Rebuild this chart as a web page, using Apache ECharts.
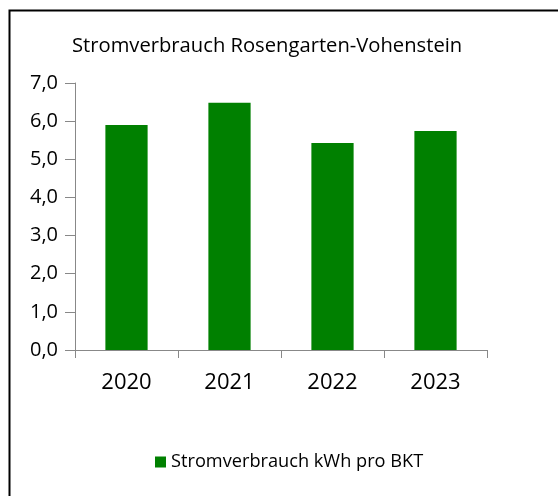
<!DOCTYPE html>
<html>
<head>
<meta charset="utf-8">
<script src="https://cdn.jsdelivr.net/npm/echarts@6/dist/echarts.min.js"></script>
<style>
html,body{margin:0;padding:0;background:#fff;}
#c{width:558px;height:496px;}
</style>
</head>
<body>
<div id="c"></div>
<script>
var categories = ['2020', '2021', '2022', '2023'];
var values = [5.90, 6.48, 5.43, 5.74];
var seriesName = 'Stromverbrauch kWh pro BKT';
var titleText = 'Stromverbrauch Rosengarten-Vohenstein';

var FONT = '"Open Sans", "Noto Sans", sans-serif';
var chart = echarts.init(document.getElementById('c'), null, {renderer: 'canvas'});
chart.setOption({
  backgroundColor: '#fff',
  animation: false,
  graphic: [{
    type: 'rect', left: 7, top: 8, silent: true,
    shape: {x: 0, y: 0, width: 620, height: 560},
    style: {fill: 'none', stroke: '#000', lineWidth: 2}
  }],
  title: {
    text: titleText, left: 67, top: 31,
    textStyle: {fontFamily: FONT, fontSize: 20.2, fontWeight: 'normal', color: '#000'}
  },
  legend: {
    data: [seriesName], left: 150, top: 448, icon: 'rect', itemWidth: 11, itemHeight: 11, itemGap: 6,
    textStyle: {fontFamily: FONT, fontSize: 18.2, color: '#000'}
  },
  grid: {left: 75, right: 71, top: 83, bottom: 146},
  xAxis: {
    type: 'category', data: categories,
    axisLine: {lineStyle: {color: '#888', width: 1}},
    axisTick: {show: true, length: 8, alignWithLabel: false, lineStyle: {color: '#888'}},
    axisLabel: {fontFamily: FONT, fontSize: 22, color: '#000', margin: 22}
  },
  yAxis: {
    type: 'value', min: 0, max: 7, interval: 1,
    splitLine: {show: false},
    axisLine: {show: true, lineStyle: {color: '#888', width: 1}},
    axisTick: {show: true, length: 10, lineStyle: {color: '#888'}},
    axisLabel: {fontFamily: FONT, fontSize: 20, color: '#000', margin: 17,
      formatter: function (v) { return v.toFixed(1).replace('.', ','); }}
  },
  series: [{
    name: seriesName, type: 'bar', data: values, barWidth: '41%',
    itemStyle: {color: '#008000'}
  }]
});
</script>
</body>
</html>
